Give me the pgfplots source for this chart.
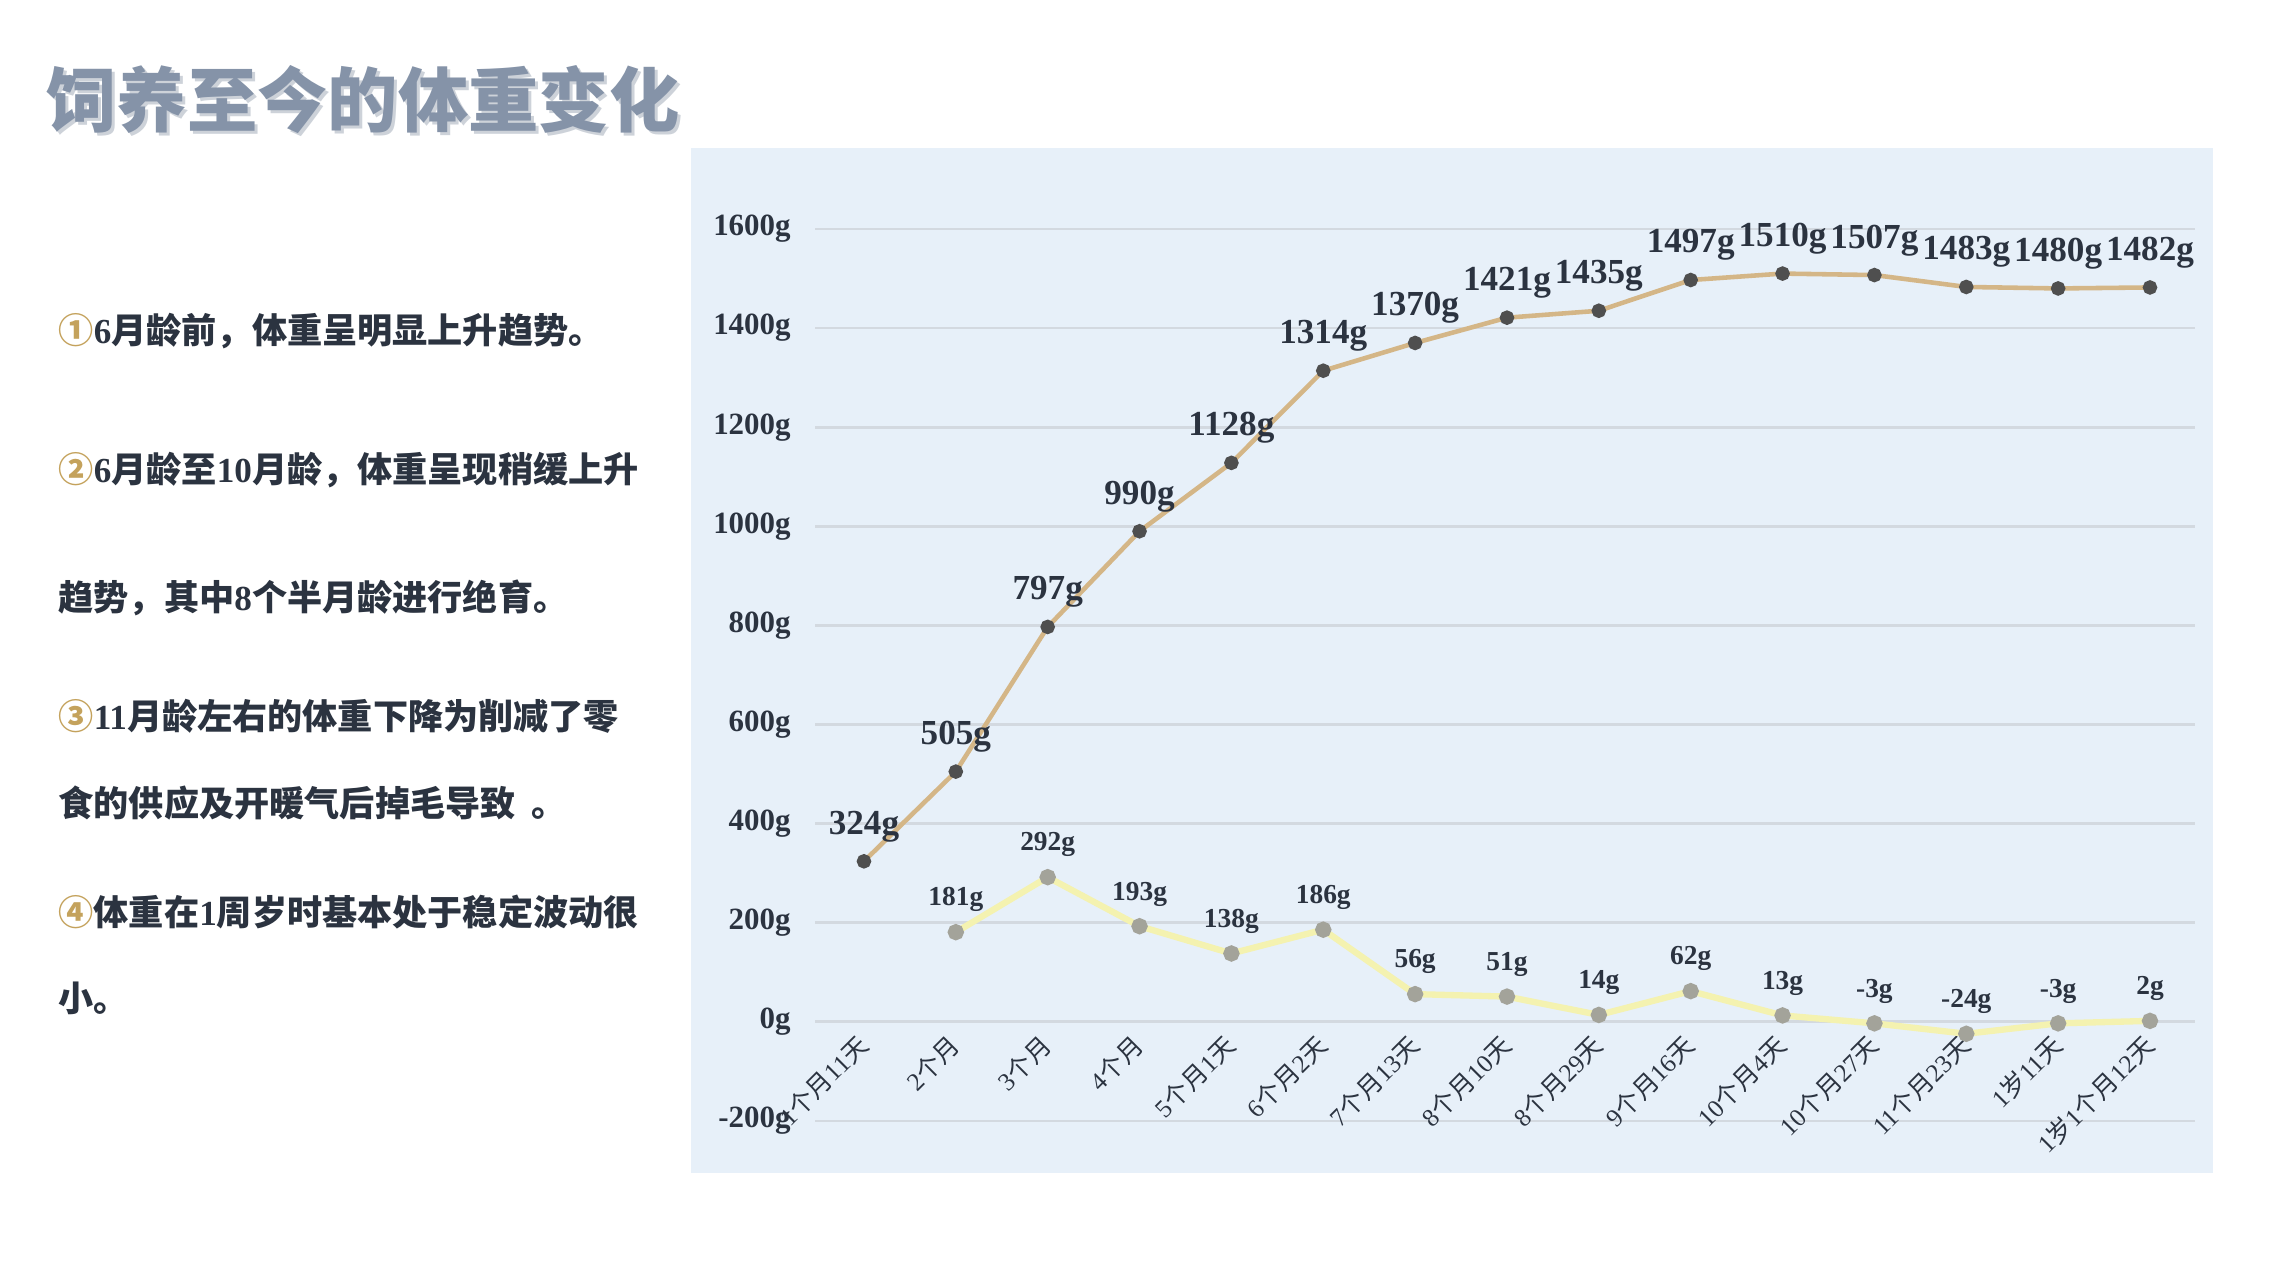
\documentclass[border=0pt]{standalone}
\usepackage{fontspec}
\setmainfont{Liberation Serif}
\newfontfamily\cjk{Noto Sans CJK SC}
\usepackage{pgfplots}
\pgfplotsset{compat=1.18}

\newcommand\zh[1]{{\cjk #1}}

\definecolor{titlecol}{HTML}{8593A8}
\definecolor{titleshadow}{HTML}{CDD2D9}
\definecolor{textcol}{HTML}{2B3340}
\definecolor{circcol}{HTML}{C4A25C}
\definecolor{panel}{HTML}{E7F0F9}
\definecolor{gridcol}{HTML}{D3D9E0}
\definecolor{line1}{HTML}{D4B687}
\definecolor{mark1}{HTML}{4F4F4F}
\definecolor{line2}{HTML}{F4F2B0}
\definecolor{mark2}{HTML}{A3A39A}

\begin{document}
\begin{tikzpicture}[x=1cm,y=1cm]
  \path[use as bounding box] (0,0) rectangle (22.77,12.80);
  \fill[white] (0,0) rectangle (22.77,12.80);
  \fill[panel] (6.91,1.07) rectangle (22.13,11.32);

  % title
  \node[anchor=west, inner sep=0pt, text=titleshadow, font=\fontsize{20}{24}\selectfont\cjk\bfseries] at (0.49,11.77) {饲养至今的体重变化};
  \node[anchor=west, inner sep=0pt, text=titlecol, font=\fontsize{20}{24}\selectfont\cjk\bfseries] at (0.46,11.80) {饲养至今的体重变化};

  % notes on the left
  \begin{scope}[every node/.style={anchor=west, text=textcol, font=\fontsize{10}{12}\selectfont\bfseries, inner sep=0pt}]
    \node at (0.58,9.49) {\zh{\textcolor{circcol}{①}}6\zh{月龄前，体重呈明显上升趋势。}};
    \node at (0.58,8.10) {\zh{\textcolor{circcol}{②}}6\zh{月龄至}10\zh{月龄，体重呈现稍缓上升}};
    \node at (0.58,6.82) {\zh{趋势，其中}8\zh{个半月龄进行绝育。}};
    \node at (0.58,5.64) {\zh{\textcolor{circcol}{③}}11\zh{月龄左右的体重下降为削减了零}};
    \node at (0.58,4.77) {\zh{食的供应及开暖气后掉毛导致 \ 。}};
    \node at (0.58,3.68) {\zh{\textcolor{circcol}{④}体重在}1\zh{周岁时基本处于稳定波动很}};
    \node at (0.58,2.82) {\zh{小。}};
  \end{scope}

  \begin{axis}[
    at={(8.15cm,1.59cm)}, anchor=south west,
    scale only axis, width=13.8cm, height=8.92cm,
    xmin=-0.533, xmax=14.49,
    ymin=-200, ymax=1600,
    axis line style={draw=none},
    major tick length=0pt,
    ymajorgrids, grid style={gridcol, line width=0.8pt},
    ytick={-200,0,200,400,600,800,1000,1200,1400,1600},
    yticklabels={-200g,0g,200g,400g,600g,800g,1000g,1200g,1400g,1600g},
    yticklabel style={font=\fontsize{8.8}{10}\selectfont\bfseries, text=textcol, xshift=-0.12cm},
    xtick={0,...,14},
    xticklabels={
      1\zh{个月}11\zh{天}, 2\zh{个月}, 3\zh{个月}, 4\zh{个月},
      5\zh{个月}1\zh{天}, 6\zh{个月}2\zh{天}, 7\zh{个月}13\zh{天},
      8\zh{个月}10\zh{天}, 8\zh{个月}29\zh{天}, 9\zh{个月}16\zh{天},
      10\zh{个月}4\zh{天}, 10\zh{个月}27\zh{天}, 11\zh{个月}23\zh{天},
      1\zh{岁}11\zh{天}, 1\zh{岁}1\zh{个月}12\zh{天}},
    xticklabel style={font=\fontsize{7.2}{8}\selectfont, text=textcol,
      xshift=0.08cm, yshift=0.89cm, rotate=45, anchor=east},
    clip=false,
  ]
    % total weight
    \addplot[line1, line width=1.3pt, mark=*, mark size=1.4pt,
      mark options={fill=mark1, draw=mark1},
      point meta=explicit symbolic,
      nodes near coords,
      nodes near coords style={font=\fontsize{10}{12}\selectfont\bfseries, text=textcol, anchor=south, yshift=1.5pt}]
      table[meta=lab] {
      x y lab
      0 324 324g
      1 505 505g
      2 797 797g
      3 990 990g
      4 1128 1128g
      5 1314 1314g
      6 1370 1370g
      7 1421 1421g
      8 1435 1435g
      9 1497 1497g
      10 1510 1510g
      11 1507 1507g
      12 1483 1483g
      13 1480 1480g
      14 1482 1482g
    };
    % gain since previous weighing
    \addplot[line2, line width=1.8pt, mark=*, mark size=1.4pt,
      mark options={fill=mark2, draw=mark2},
      point meta=explicit symbolic,
      nodes near coords,
      nodes near coords style={font=\fontsize{7.8}{9}\selectfont\bfseries, text=textcol, anchor=south, yshift=1.5pt}]
      table[meta=lab] {
      x y lab
      1 181 181g
      2 292 292g
      3 193 193g
      4 138 138g
      5 186 186g
      6 56 56g
      7 51 51g
      8 14 14g
      9 62 62g
      10 13 13g
      11 -3 -3g
      12 -24 -24g
      13 -3 -3g
      14 2 2g
    };
  \end{axis}
\end{tikzpicture}
\end{document}
